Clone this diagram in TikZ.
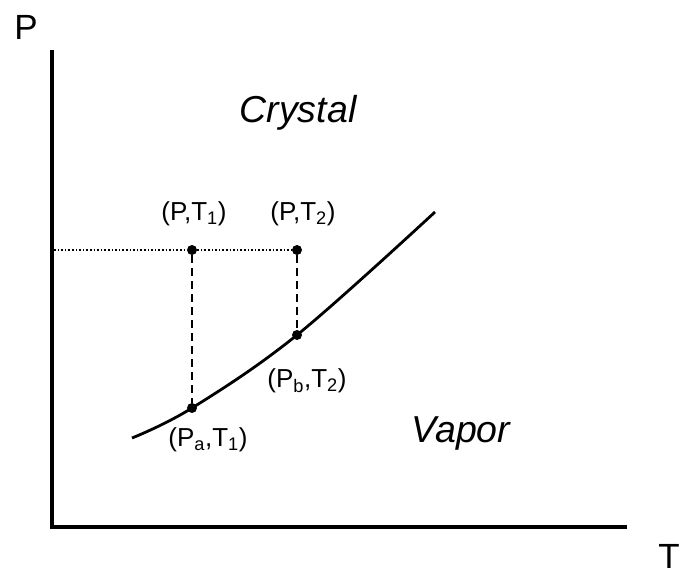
\documentclass[tikz,border=0pt]{standalone}
\usepackage{fontspec}
\setmainfont{Liberation Sans}
\usetikzlibrary{positioning}

\begin{document}
\begin{tikzpicture}[
    x=1pt, y=-1pt,
    axis/.style={line width=3.6pt},
    curvefit/.style={line width=2.8pt},
    guide/.style={line width=2.2pt, dash pattern=on 8pt off 5pt},
    level/.style={line width=1.6pt, dotted},
    dot/.style={circle, fill=black, inner sep=0pt, minimum size=10pt},
    ptlabel/.style={font=\fontsize{26}{30}\selectfont, inner sep=0pt},
    phase/.style={font=\fontsize{37.5}{42}\selectfont\itshape, inner sep=0pt},
    axlabel/.style={font=\fontsize{35}{40}\selectfont, inner sep=0pt}
  ]
    \useasboundingbox (0,0) rectangle (681,573);
    % axes
    \coordinate (O) at (52,527);
    \coordinate (Ptop) at (52,50);
    \coordinate (Tend) at (627,527);
    \draw[axis] (Ptop) -- (O) -- (Tend);
    \node[axlabel] (P) at (26,27) {P};
    \node[axlabel] (T) at (669,556) {T};
    % coexistence curve
    \draw[curvefit] plot[smooth, tension=0.6] coordinates {(132,438) (192,408) (297,335) (435,212)};
    % points
    \node[dot] (PT1) at (192,250) {};
    \node[dot] (PT2) at (297,250) {};
    \node[dot] (PaT1) at (192,408) {};
    \node[dot] (PbT2) at (297,335) {};
    \coordinate (Plevel) at (54,250);
    \draw[level] (Plevel) -- (PT1) -- (PT2);
    \draw[guide] (PT1) -- (PaT1);
    \draw[guide] (PT2) -- (PbT2);
    % labels
    \node[ptlabel] at (194,214) {(P,T\textsubscript{1})};
    \node[ptlabel] at (303,214) {(P,T\textsubscript{2})};
    \node[ptlabel] at (307,381) {(P\textsubscript{b},T\textsubscript{2})};
    \node[ptlabel] at (208,440) {(P\textsubscript{a},T\textsubscript{1})};
    \node[phase] (crystal) at (298,113) {Crystal};
    \node[phase] (vapor) at (461,433) {Vapor};
  \end{tikzpicture}
\end{document}
